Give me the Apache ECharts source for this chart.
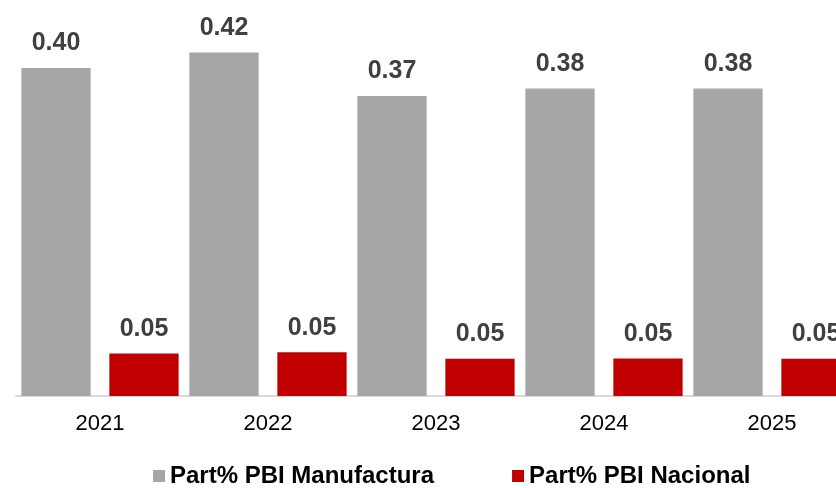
<!DOCTYPE html>
<html>
<head>
<meta charset="utf-8">
<script src="https://cdn.jsdelivr.net/npm/echarts@6/dist/echarts.min.js"></script>
<style>
  html, body { margin: 0; padding: 0; background: #fff; }
  #container { width: 836px; height: 488px; }
</style>
</head>
<body>
<div id="container"></div>
<script>
var years = ['2021', '2022', '2023', '2024', '2025'];
var seriesNames = ['Part% PBI Manufactura', 'Part% PBI Nacional'];
var manufactura = [0.401, 0.420, 0.367, 0.376, 0.376];
var nacional = [0.052, 0.0536, 0.0455, 0.0459, 0.0455];

var font = "'Liberation Sans', Arial, sans-serif";

var myChart = echarts.init(document.getElementById('container'));

var barLabel = {
    show: true,
    position: 'top',
    distance: 12,
    color: '#404040',
    fontFamily: font,
    fontWeight: 'bold',
    fontSize: 25,
    formatter: function (p) { return p.value.toFixed(2); }
};

myChart.setOption({
    animation: false,
    color: ['#a6a6a6', '#c00000'],
    legend: {
        left: 153,
        top: 464,
        padding: 0,
        itemWidth: 12,
        itemHeight: 12,
        itemGap: 78,
        icon: 'rect',
        textStyle: {
            color: '#000',
            fontFamily: font,
            fontWeight: 'bold',
            fontSize: 24
        },
        data: seriesNames
    },
    grid: {
        left: 16,
        width: 840,
        top: 28,
        bottom: 92,
        outerBoundsMode: 'none'
    },
    xAxis: {
        type: 'category',
        data: years,
        axisTick: { show: false },
        axisLine: { lineStyle: { color: '#d9d9d9', width: 2 } },
        axisLabel: {
            color: '#000',
            fontFamily: font,
            fontSize: 22,
            margin: 17
        }
    },
    yAxis: {
        type: 'value',
        min: 0,
        max: 0.45,
        show: false,
        splitLine: { show: false }
    },
    series: [
        {
            name: seriesNames[0],
            type: 'bar',
            data: manufactura,
            barGap: '27%',
            barCategoryGap: '6.4%',
            label: barLabel
        },
        {
            name: seriesNames[1],
            type: 'bar',
            data: nacional,
            label: barLabel
        }
    ]
});
</script>
</body>
</html>
